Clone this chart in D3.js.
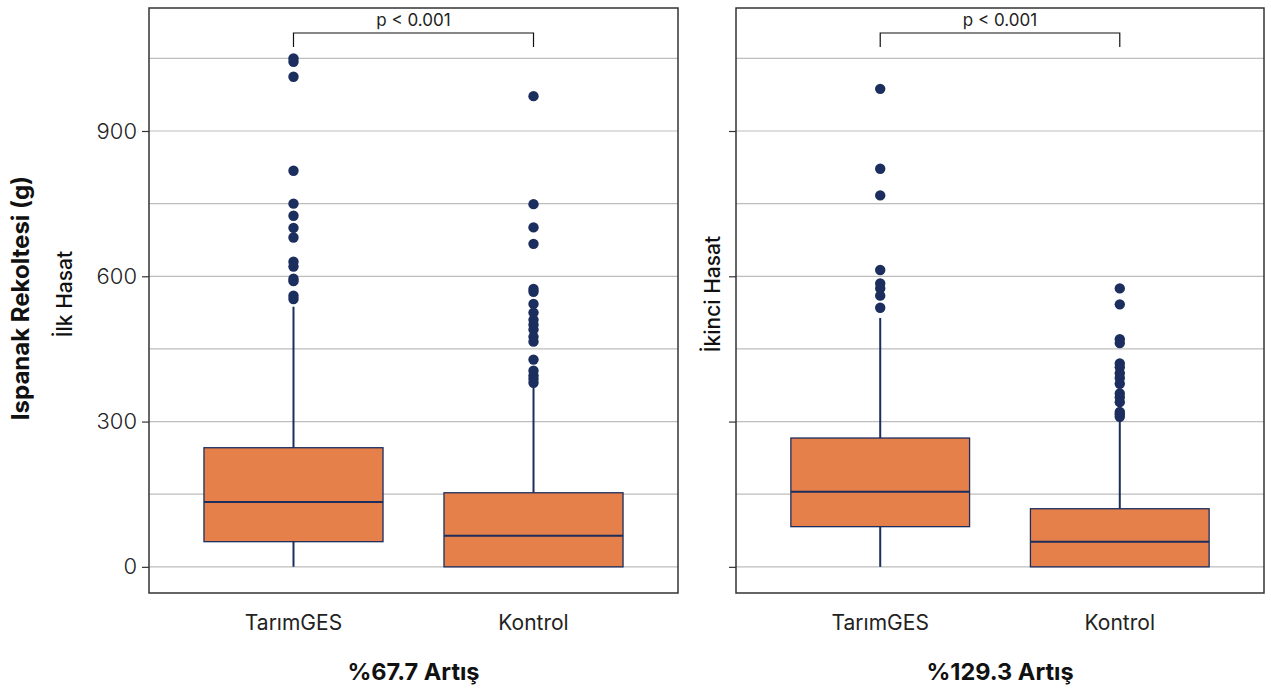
<!DOCTYPE html>
<html>
<head>
<meta charset="utf-8">
<script src="https://cdn.jsdelivr.net/npm/d3@7"></script>
<style>
  body { margin: 0; background: #fff; }
  text { font-family: Inter, "Noto Sans", sans-serif; }
</style>
</head>
<body>
<div class="chart"></div>
<script>
// Data
var groups = ["TarımGES", "Kontrol"];
var panelTitles = ["%67.7 Artış", "%129.3 Artış"];
var panelYLabels = ["İlk Hasat", "İkinci Hasat"];
var pLabels = ["p < 0.001", "p < 0.001"];
var yTicks = [0, 300, 600, 900];
var yGrid = [0, 150, 300, 450, 600, 750, 900, 1050];

// box stats per panel: [lowWhisker, q1, median, q3, highWhisker]
var statsIlk = [
  [0, 52, 134, 246, 537],
  [0, 0, 64, 153, 376]
];
var statsIkinci = [
  [0, 83, 155, 266, 514],
  [0, 0, 52, 120, 305]
];
var outliersIlk = [
  [1050, 1043, 1012, 818, 750, 725, 700, 680, 630, 620, 595, 590, 560, 553],
  [972, 749, 701, 667, 574, 568, 543, 525, 510, 500, 490, 475, 465, 428, 405, 395, 388, 380]
];
var outliersIkinci = [
  [987, 822, 767, 613, 585, 575, 560, 535],
  [575, 542, 470, 462, 420, 412, 400, 390, 378, 358, 350, 340, 320, 315, 310]
];

var panels = [
  {stats: statsIlk, out: outliersIlk},
  {stats: statsIkinci, out: outliersIkinci}
];

// Configuration
var width = 1271, height = 691;
var plotTop = 8, plotBottom = 593;
var panelX = [[149, 678], [736, 1264]];
var boxFill = "#e6804a", navy = "#1c2e5e", border = "#333";

var svg = d3.select(".chart").append("svg")
    .attr("width", width)
    .attr("height", height);

var y = d3.scaleLinear().domain([-54, 1154]).range([plotBottom, plotTop]);

panels.forEach(function(p, k) {
  var x0 = panelX[k][0], x1 = panelX[k][1];
  var x = d3.scaleBand().domain(groups).range([x0, x1]).paddingInner(0.254).paddingOuter(0.229);
  var g = svg.append("g");

  // grid
  g.selectAll("line.grid").data(yGrid).enter().append("line")
      .attr("x1", x0).attr("x2", x1)
      .attr("y1", d => y(d)).attr("y2", d => y(d))
      .attr("stroke", "#bdbdbd").attr("stroke-width", 1.2);

  // y axis ticks (labels only on the left panel)
  var axis = d3.axisLeft(y).tickValues(yTicks).tickSize(7).tickPadding(5)
      .tickFormat(k === 0 ? d3.format("d") : "");
  var ag = g.append("g").attr("transform", "translate(" + x0 + ",0)").call(axis);
  ag.select(".domain").remove();
  ag.selectAll(".tick line").attr("stroke", border).attr("stroke-width", 1.2);
  ag.selectAll(".tick text").attr("font-size", 22).attr("fill", "#222")
      .style("font-family", "Inter, sans-serif").style("font-weight", 300);

  // whiskers
  g.selectAll("line.whisk").data(p.stats).enter().append("line")
      .attr("x1", (d, i) => x(groups[i]) + x.bandwidth() / 2)
      .attr("x2", (d, i) => x(groups[i]) + x.bandwidth() / 2)
      .attr("y1", d => y(d[0])).attr("y2", d => y(d[4]))
      .attr("stroke", navy).attr("stroke-width", 2);

  // boxes
  g.selectAll("rect.box").data(p.stats).enter().append("rect")
      .attr("x", (d, i) => x(groups[i]))
      .attr("width", x.bandwidth())
      .attr("y", d => y(d[3]))
      .attr("height", d => y(d[1]) - y(d[3]))
      .attr("fill", boxFill).attr("stroke", navy).attr("stroke-width", 1.3);

  // medians
  g.selectAll("line.med").data(p.stats).enter().append("line")
      .attr("x1", (d, i) => x(groups[i]))
      .attr("x2", (d, i) => x(groups[i]) + x.bandwidth())
      .attr("y1", d => y(d[2])).attr("y2", d => y(d[2]))
      .attr("stroke", navy).attr("stroke-width", 2);

  // outliers
  p.out.forEach(function(vals, i) {
    g.selectAll("circle.o" + i).data(vals).enter().append("circle")
        .attr("cx", x(groups[i]) + x.bandwidth() / 2)
        .attr("cy", d => y(d))
        .attr("r", 5.2)
        .attr("fill", navy);
  });

  // significance bracket
  var bx0 = x(groups[0]) + x.bandwidth() / 2, bx1 = x(groups[1]) + x.bandwidth() / 2;
  g.append("path")
      .attr("d", "M" + bx0 + "," + 47 + "V33H" + bx1 + "V47")
      .attr("fill", "none").attr("stroke", "#111").attr("stroke-width", 1.2);
  g.append("text")
      .attr("x", (bx0 + bx1) / 2).attr("y", 26)
      .attr("text-anchor", "middle").attr("font-size", 17).attr("fill", "#222")
      .text(pLabels[k]);

  // panel border
  g.append("rect")
      .attr("x", x0).attr("y", plotTop)
      .attr("width", x1 - x0).attr("height", plotBottom - plotTop)
      .attr("fill", "none").attr("stroke", border).attr("stroke-width", 1.5);

  // category labels
  g.selectAll("text.cat").data(groups).enter().append("text")
      .attr("x", d => x(d) + x.bandwidth() / 2)
      .attr("y", 630)
      .attr("text-anchor", "middle").attr("font-size", 21).attr("fill", "#222")
      .text(d => d);

  // panel title (bottom)
  g.append("text")
      .attr("x", (x0 + x1) / 2).attr("y", 680)
      .attr("text-anchor", "middle").attr("font-size", 23.5)
      .attr("font-weight", "bold").attr("fill", "#111")
      .text(panelTitles[k]);

  // panel y label
  var ly = k === 0 ? 72 : 720;
  g.append("text")
      .attr("transform", "translate(" + ly + "," + 294 + ") rotate(-90)")
      .attr("text-anchor", "middle").attr("font-size", 21).attr("font-weight", 500)
      .attr("fill", "#111")
      .text(panelYLabels[k]);
});

// overall y label
svg.append("text")
    .attr("transform", "translate(29,298) rotate(-90)")
    .attr("text-anchor", "middle").attr("font-size", 24)
    .attr("font-weight", "bold").attr("fill", "#111")
    .text("Ispanak Rekoltesi (g)");
</script>
</body>
</html>
